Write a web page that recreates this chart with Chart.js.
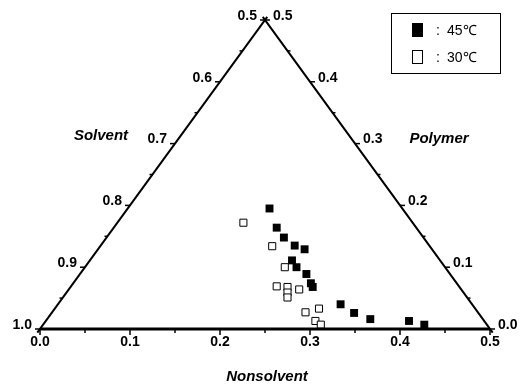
<!DOCTYPE html>
<html>
<head>
<meta charset="utf-8">
<script src="https://cdn.jsdelivr.net/npm/chart.js@4"></script>
<style>
  body { margin: 0; background: #fff; }
  canvas { display: block; }
</style>
</head>
<body>
<canvas id="c" width="524" height="390"></canvas>
<script>
// plotted position in the triangle frame: x along the nonsolvent base, y = polymer height
const t45x = [0.255, 0.263, 0.271, 0.283, 0.294, 0.280, 0.285, 0.296, 0.301, 0.303, 0.334, 0.349, 0.367, 0.410, 0.427];
const t45y = [0.195, 0.164, 0.148, 0.135, 0.129, 0.111, 0.100, 0.089, 0.074, 0.068, 0.040, 0.026, 0.016, 0.013, 0.007];
const t30x = [0.226, 0.258, 0.272, 0.263, 0.275, 0.275, 0.275, 0.288, 0.295, 0.310, 0.306, 0.312];
const t30y = [0.172, 0.134, 0.100, 0.069, 0.068, 0.059, 0.051, 0.064, 0.027, 0.033, 0.013, 0.007];

const baseTicks = [0, 0.1, 0.2, 0.3, 0.4, 0.5];
const solventTicks = [1.0, 0.9, 0.8, 0.7, 0.6, 0.5];
const polymerTicks = [0.0, 0.1, 0.2, 0.3, 0.4, 0.5];

const pts = (xs, ys) => xs.map((x, i) => ({ x, y: ys[i] }));

const FONT = "Liberation Sans, Arial, sans-serif";

// -------- edges, ticks, titles, legend -----------
const ternary = {
  id: "ternary",
  afterDatasetsDraw(chart) {
    const { ctx } = chart;
    const xs = chart.scales.x, ys = chart.scales.y;
    const px = (v) => xs.getPixelForValue(v);
    const py = (v) => ys.getPixelForValue(v);
    ctx.save();
    ctx.strokeStyle = "#000";
    ctx.fillStyle = "#000";
    ctx.lineWidth = 1.5;

    // base ticks
    for (let i = 0; i <= 10; i++) {
      const x = px(i * 0.05);
      ctx.beginPath();
      ctx.moveTo(x, py(0));
      ctx.lineTo(x, py(0) + (i % 2 ? 4 : 6));
      ctx.stroke();
    }
    ctx.font = "bold 14px " + FONT;
    ctx.textAlign = "center";
    ctx.textBaseline = "middle";
    baseTicks.forEach((v) => ctx.fillText(v.toFixed(1), px(v), py(0) + 13));

    // left edge (solvent)
    for (let i = 0; i <= 10; i++) {
      const s = 1 - i * 0.05;
      const y = 1 - s;
      const x = px(y / 2), yy = py(y);
      ctx.beginPath();
      ctx.moveTo(x, yy);
      ctx.lineTo(x - (i % 2 ? 3 : 5), yy);
      ctx.stroke();
    }
    ctx.textAlign = "right";
    solventTicks.forEach((s) => {
      const y = 1 - s;
      ctx.fillText(s.toFixed(1), px(y / 2) - 8, py(y) - 4);
    });

    // right edge (polymer)
    for (let i = 0; i <= 10; i++) {
      const p = i * 0.05;
      const x = px(0.5 - p / 2), yy = py(p);
      ctx.beginPath();
      ctx.moveTo(x, yy);
      ctx.lineTo(x + (i % 2 ? 3 : 5), yy);
      ctx.stroke();
    }
    ctx.textAlign = "left";
    polymerTicks.forEach((p) => {
      ctx.fillText(p.toFixed(1), px(0.5 - p / 2) + 8, py(p) - 4);
    });

    // titles
    ctx.font = "italic bold 15px " + FONT;
    ctx.textAlign = "center";
    ctx.fillText("Solvent", 101, 136);
    ctx.fillText("Polymer", 439, 139);
    ctx.fillText("Nonsolvent", 267, 377);

    // legend box
    ctx.lineWidth = 1;
    ctx.strokeRect(391.5, 13.5, 109, 60);
    ctx.font = "14px " + FONT;
    ctx.textAlign = "left";
    chart.data.datasets.slice(2).forEach((ds, i) => {
      const cy = 30 + i * 27;
      ctx.fillStyle = ds.pointBackgroundColor;
      ctx.fillRect(412, cy - 7, 11, 14);
      ctx.strokeStyle = "#000";
      ctx.strokeRect(412.5, cy - 6.5, 10, 13);
      ctx.fillStyle = "#000";
      ctx.fillText(":", 436, cy + 1);
      ctx.fillText(ds.label, 447, cy + 1);
    });
    ctx.restore();
  },
};

new Chart(document.getElementById("c"), {
  type: "scatter",
  data: {
    datasets: [
      {
        label: "sides",
        data: [{ x: -0.003, y: -0.006 }, { x: 0.2525, y: 0.505 }, { x: 0.25, y: 0.5 }, { x: 0.2475, y: 0.505 }, { x: 0.503, y: -0.006 }],
        showLine: true,
        borderColor: "#000",
        borderWidth: 2,
        pointRadius: 0,
        clip: false,
        segment: { borderColor: (c) => (c.p0DataIndex === 1 ? "transparent" : "#000") },
      },
      {
        label: "base",
        data: [{ x: 0, y: 0 }, { x: 0.5, y: 0 }],
        showLine: true,
        borderColor: "#000",
        borderWidth: 3,
        pointRadius: 0,
        clip: false,
      },
      {
        label: "45℃",
        data: pts(t45x, t45y),
        pointStyle: "rect",
        pointRadius: 5.6,
        pointBackgroundColor: "#000",
        pointBorderColor: "#000",
        pointBorderWidth: 0,
      },
      {
        label: "30℃",
        data: pts(t30x, t30y),
        pointStyle: "rect",
        pointRadius: 5,
        pointBackgroundColor: "#fff",
        pointBorderColor: "#000",
        pointBorderWidth: 1,
      },
    ],
  },
  options: {
    responsive: false,
    animation: false,
    layout: { padding: { left: 40, right: 34, top: 20, bottom: 61 } },
    plugins: { legend: { display: false }, tooltip: { enabled: false } },
    scales: {
      x: { type: "linear", min: 0, max: 0.5, display: false },
      y: { type: "linear", min: 0, max: 0.5, display: false },
    },
  },
  plugins: [ternary],
});
</script>
</body>
</html>
